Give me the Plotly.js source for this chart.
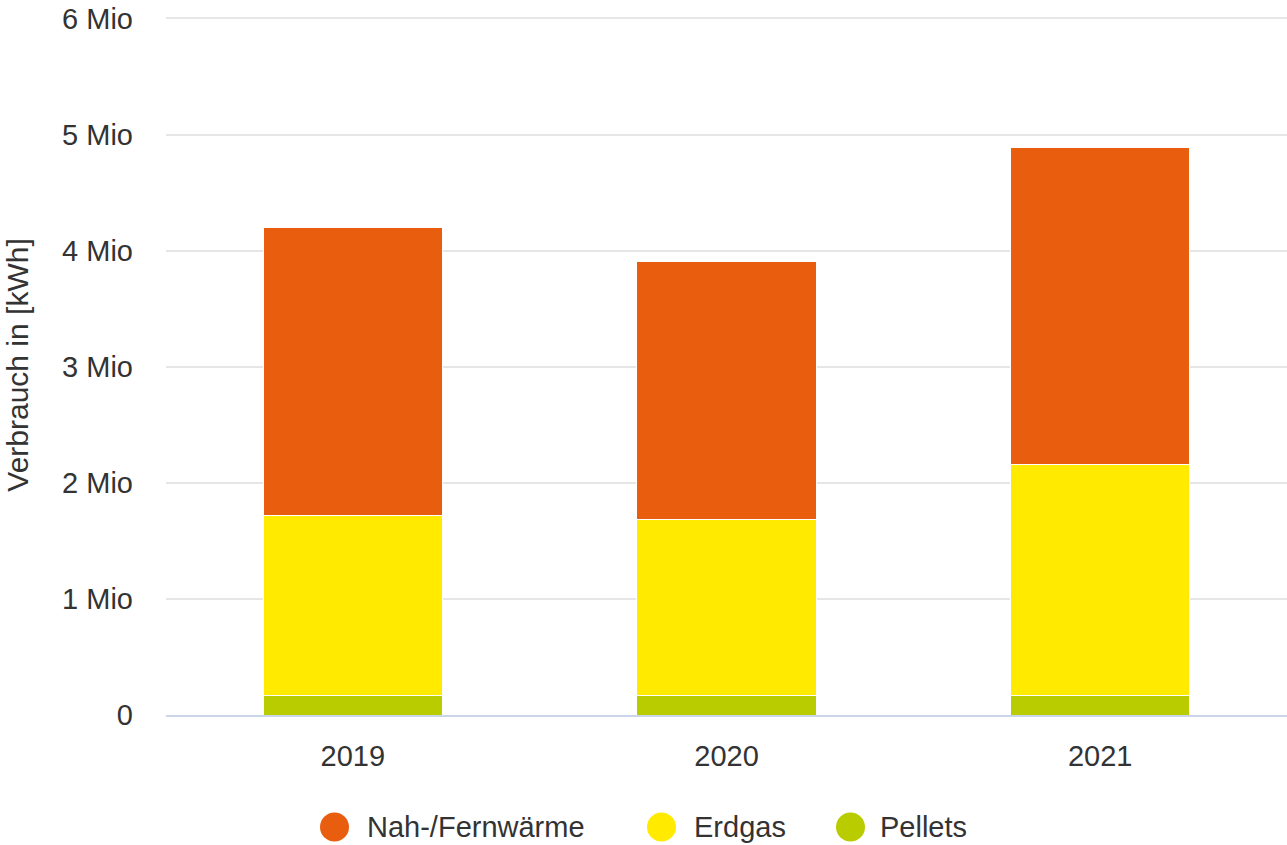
<!DOCTYPE html>
<html>
<head>
<meta charset="utf-8">
<script src="https://cdn.plot.ly/plotly-3.0.1.min.js"></script>
<style>html,body{margin:0;padding:0;background:#fff;}#chart{width:1287px;height:845px;}</style>
</head>
<body>
<div id="chart"></div>
<script>
const years = ['2019', '2020', '2021'];
const seriesNames = ['Nah-/Fernwärme', 'Erdgas', 'Pellets'];
const fernwaerme = [2.48, 2.23, 2.73];
const erdgas = [1.55, 1.51, 1.99];
const pellets = [0.17, 0.17, 0.17];
const tickVals = [0, 1, 2, 3, 4, 5, 6];
const tickText = ['0', '1 Mio', '2 Mio', '3 Mio', '4 Mio', '5 Mio', '6 Mio'];
const colors = ['#E95D0F', '#FFEA00', '#B8CC00'];

const FONT = '"Liberation Sans", Arial, sans-serif';
const FS = 29;
const stackData = [pellets, erdgas, fernwaerme];
const stackIdx = [2, 1, 0];

const traces = [];
stackIdx.forEach((si, k) => {
  traces.push({
    type: 'bar', x: years, y: stackData[k], name: seriesNames[si],
    marker: {color: colors[si], line: {color: '#ffffff', width: 1}},
    showlegend: false, hoverinfo: 'x+y+name'
  });
});

// custom legend (circle markers larger than plotly's legend allows)
const PLOT_L = 166, PLOT_W = 1121, PLOT_T = 15, PLOT_B = 715;
const PLOT_H = PLOT_B - PLOT_T;
const legendCirclePx = [334.5, 661.5, 850.5];
const legendTextPx = [365, 692, 878];
const legendYPx = 827;
const toPX = px => (px - PLOT_L) / PLOT_W;
const toPY = py => (PLOT_B - py) / PLOT_H;
const shapes = [], annotations = [];
seriesNames.forEach((n, i) => {
  shapes.push({
    type: 'circle', xref: 'paper', yref: 'paper',
    xsizemode: 'pixel', ysizemode: 'pixel',
    xanchor: toPX(legendCirclePx[i]), yanchor: toPY(legendYPx),
    x0: -14.5, x1: 14.5, y0: -14.5, y1: 14.5,
    fillcolor: colors[i], line: {width: 0}
  });
  annotations.push({
    xref: 'paper', yref: 'paper', x: toPX(legendTextPx[i]), y: toPY(legendYPx),
    xanchor: 'left', yanchor: 'middle', showarrow: false, text: n,
    font: {family: FONT, size: FS, color: '#333333'}
  });
});

const layout = {
  width: 1287, height: 845,
  margin: {l: PLOT_L, r: 0, t: PLOT_T, b: 845 - PLOT_B},
  paper_bgcolor: '#ffffff', plot_bgcolor: '#ffffff',
  barmode: 'stack', bargap: 0.52,
  font: {family: FONT, color: '#333333', size: FS},
  showlegend: false,
  xaxis: {
    type: 'category', showgrid: false, zeroline: false,
    showline: true, linecolor: '#ccd6eb', linewidth: 2,
    ticks: '', ticklabelstandoff: 14,
    tickfont: {family: FONT, size: FS, color: '#333333'},
    automargin: false
  },
  yaxis: {
    range: [0, 6.03], tickvals: tickVals, ticktext: tickText,
    showgrid: true, gridcolor: '#e6e6e6', gridwidth: 2,
    zeroline: false, showline: false, ticks: '', ticklabelstandoff: 32,
    tickfont: {family: FONT, size: FS, color: '#333333'},
    title: {text: 'Verbrauch in [kWh]', font: {family: FONT, size: 30, color: '#333333'}, standoff: 24},
    automargin: false
  },
  shapes: shapes,
  annotations: annotations
};

Plotly.newPlot('chart', traces, layout, {displayModeBar: false, staticPlot: true});
</script>
</body>
</html>
